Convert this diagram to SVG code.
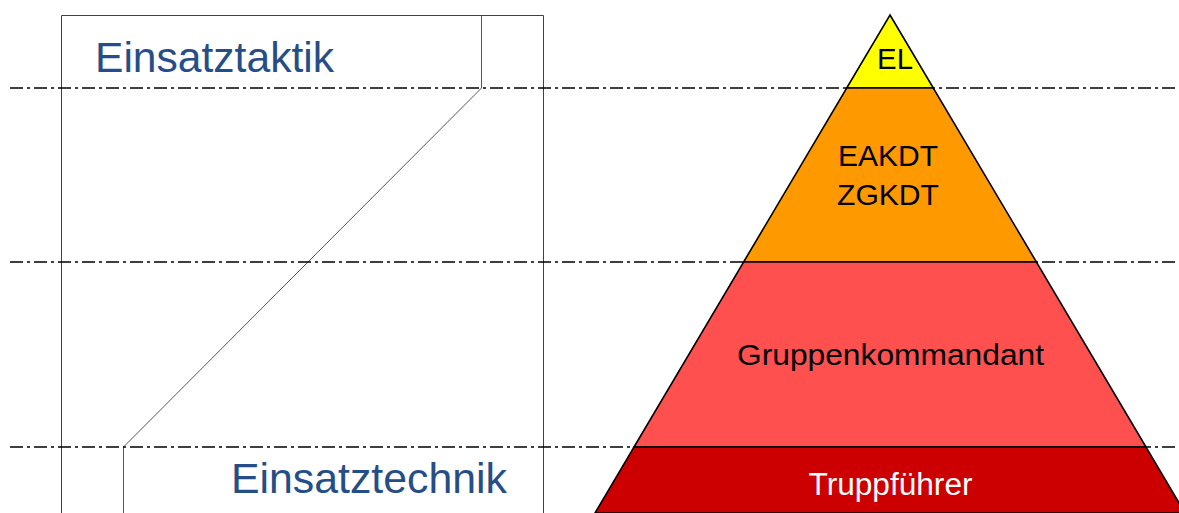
<svg xmlns="http://www.w3.org/2000/svg" width="1179" height="513" viewBox="0 0 1179 513">
<style>
.frame{fill:none;stroke:#404040;stroke-width:1}
.split{fill:none;stroke:#555;stroke-width:1}
.dd{fill:none;stroke:#000;stroke-width:1.6;stroke-dasharray:13 4 3 4}
.lvl{stroke:#000;stroke-width:1.6;stroke-linejoin:miter}
.blue{font-family:"Liberation Sans",Arial,sans-serif;font-size:42px;fill:#254E87}
.lbl{font-family:"Liberation Sans",Arial,sans-serif;fill:#000;text-anchor:middle}
</style>
<rect width="1179" height="513" fill="#fff"/>
<g id="tactic-technique">
<path class="frame" d="M61.5,520 V15.5 H543.5 V520"/>
<path class="split" d="M481.5,15.5 V88 L123.5,447 V520"/>
<text class="blue" x="95" y="72" textLength="239" lengthAdjust="spacingAndGlyphs">Einsatztaktik</text>
<text class="blue" x="231" y="493" textLength="276" lengthAdjust="spacingAndGlyphs">Einsatztechnik</text>
</g>
<g id="connectors">
<line class="dd" x1="10" y1="88" x2="1179" y2="88"/>
<line class="dd" x1="10" y1="262" x2="1179" y2="262"/>
<line class="dd" x1="10" y1="447" x2="1179" y2="447"/>
</g>
<g id="level-el">
<polygon class="lvl" fill="#FFFF00" points="890,15 933.3,88 846.7,88"/>
<text class="lbl" x="895" y="69" font-size="30" textLength="36" lengthAdjust="spacingAndGlyphs">EL</text>
</g>
<g id="level-eakdt">
<polygon class="lvl" fill="#FF9900" points="846.7,88 933.3,88 1036.4,262 743.6,262"/>
<text class="lbl" x="888" y="166" font-size="30" textLength="100" lengthAdjust="spacingAndGlyphs">EAKDT</text>
<text class="lbl" x="888" y="205" font-size="30" textLength="102" lengthAdjust="spacingAndGlyphs">ZGKDT</text>
</g>
<g id="level-gruppe">
<polygon class="lvl" fill="#FF5050" points="743.6,262 1036.4,262 1146,447 634,447"/>
<text class="lbl" x="890.5" y="365" font-size="29" textLength="307" lengthAdjust="spacingAndGlyphs">Gruppenkommandant</text>
</g>
<g id="level-trupp">
<polygon class="lvl" fill="#CC0000" points="634,447 1146,447 1185,513 595,513"/>
<text class="lbl" x="890.5" y="495" font-size="31" style="fill:#fff" textLength="164" lengthAdjust="spacingAndGlyphs">Truppführer</text>
</g>
</svg>
